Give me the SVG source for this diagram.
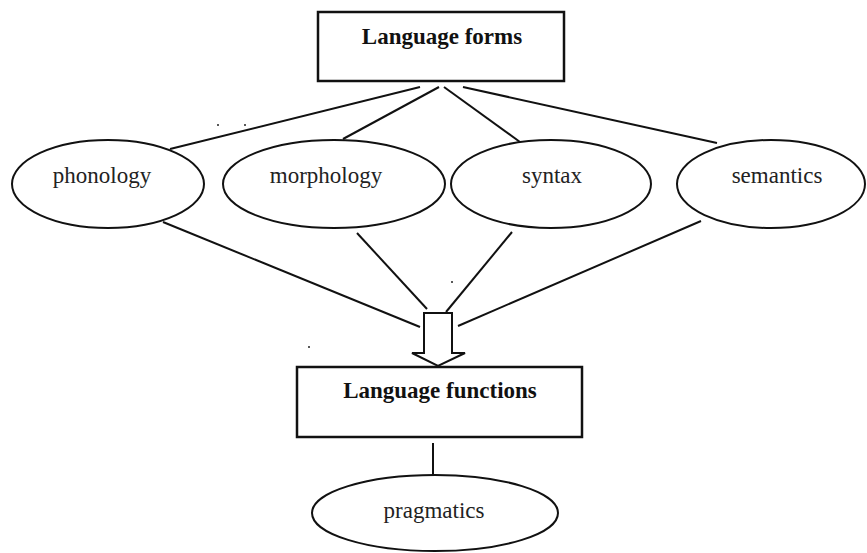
<svg xmlns="http://www.w3.org/2000/svg" width="867" height="553" viewBox="0 0 867 553">
<style>
.s{fill:none;stroke:#111;stroke-width:2}
.b{fill:#fff;stroke:#111;stroke-width:2.5}
.t{font-family:"Liberation Serif","Times New Roman",serif;font-size:23px;fill:#222;text-anchor:middle}
.h{font-family:"Liberation Serif","Times New Roman",serif;font-size:23px;font-weight:bold;fill:#111;text-anchor:middle}
</style>
<rect width="867" height="553" fill="#fff"/>
<g id="connectors" class="s">
<line x1="420" y1="87" x2="170" y2="149"/>
<line x1="439" y1="87" x2="343" y2="139"/>
<line x1="444" y1="87" x2="520" y2="142"/>
<line x1="463" y1="87" x2="717" y2="143"/>
<line x1="163" y1="222" x2="420" y2="327"/>
<line x1="357" y1="233" x2="427" y2="309"/>
<line x1="512" y1="232" x2="446" y2="312"/>
<line x1="701" y1="221" x2="458" y2="326"/>
<line x1="433" y1="443" x2="433" y2="475"/>
<polygon points="424,313 452,313 452,353 465,353 438,366 412,353 424,353" fill="#fff" stroke="#111" stroke-width="2"/>
</g>
<g id="forms"><rect class="b" x="318" y="12" width="246" height="69"/><text class="h" x="442" y="44">Language forms</text></g>
<g id="phonology"><ellipse class="s" cx="108" cy="184" rx="96" ry="44"/><text class="t" x="102" y="183">phonology</text></g>
<g id="morphology"><ellipse class="s" cx="334" cy="184" rx="111" ry="44"/><text class="t" x="326" y="183">morphology</text></g>
<g id="syntax"><ellipse class="s" cx="551" cy="184" rx="100" ry="44"/><text class="t" x="552" y="183">syntax</text></g>
<g id="semantics"><ellipse class="s" cx="771" cy="184" rx="94" ry="44"/><text class="t" x="777" y="183">semantics</text></g>
<g id="functions"><rect class="b" x="297" y="367" width="285" height="70"/><text class="h" x="440" y="398">Language functions</text></g>
<g id="pragmatics"><ellipse class="s" cx="435" cy="513" rx="123" ry="38"/><text class="t" x="434" y="518">pragmatics</text></g>
<g fill="#222"><circle cx="218" cy="125" r="1"/><circle cx="245" cy="125" r="1"/><circle cx="452" cy="282" r="1"/><circle cx="309" cy="347" r="1"/></g>
</svg>
